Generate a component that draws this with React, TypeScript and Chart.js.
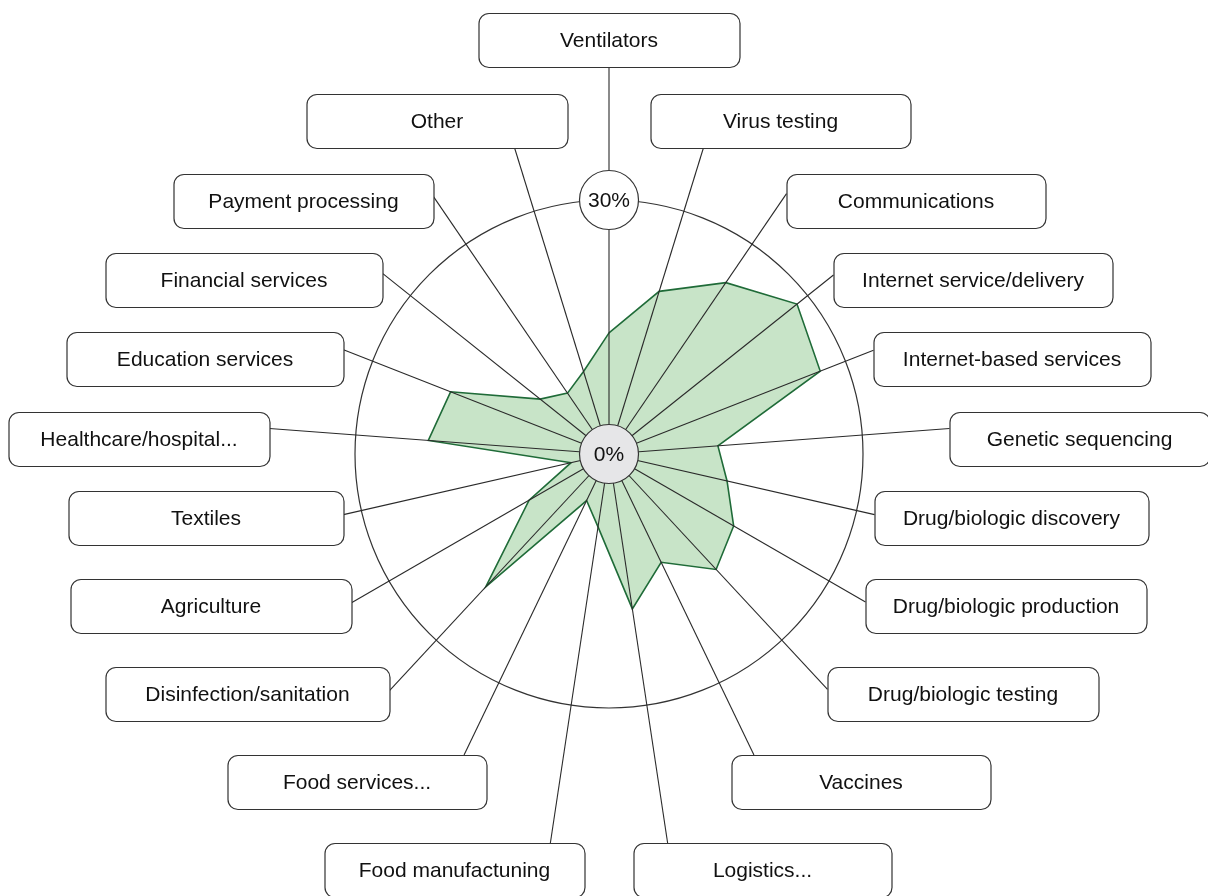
import React, { useEffect, useRef } from 'react';
import { Chart, registerables } from 'chart.js';

Chart.register(...registerables);

// ---- data ----
const categories: string[] = [
  'Ventilators',
  'Virus testing',
  'Communications',
  'Internet service/delivery',
  'Internet-based services',
  'Genetic sequencing',
  'Drug/biologic discovery',
  'Drug/biologic production',
  'Drug/biologic testing',
  'Vaccines',
  'Logistics...',
  'Food manufactuning',
  'Food services...',
  'Disinfection/sanitation',
  'Agriculture',
  'Textiles',
  'Healthcare/hospital...',
  'Education services',
  'Financial services',
  'Payment processing',
  'Other',
];

const shareValues: number[] = [
  14.3, 20.1, 24.5, 28.4, 26.8, 12.9, 14.3, 17.0, 18.6, 14.2, 18.5,
  8.7, 6.1, 21.4, 10.9, 4.6, 21.4, 20.1, 10.4, 8.7, 10.2,
];

const scaleMin = 0;
const scaleMax = 30;
const tickLabels: string[] = ['0%', '30%'];

// ---- layout (label boxes, offsets from the radar centre, px) ----
const boxDx: number[] = [0, 171.5, 307, 364, 403, 470.5, 402.5, 397, 354, 252, 153.5, -154.5, -252, -361.5, -398, -403, -470, -404, -365, -305.5, -172];
const boxDy: number[] = [-414, -333, -253, -174, -95, -15, 64, 152, 240, 328, 416, 416, 328, 240, 152, 64, -15, -95, -174, -253, -333];
const boxW: number[] = [261, 260, 259, 279, 277, 260, 274, 281, 271, 259, 258, 260, 259, 284, 281, 275, 261, 277, 277, 260, 261];
const BOX_H = 54;
const BOX_R = 10;
const FONT = '21px "Liberation Sans", Arial, sans-serif';
const INK = '#111111';
const LINE = '#2a2a2a';

function roundRect(ctx: CanvasRenderingContext2D, x: number, y: number, w: number, h: number, r: number) {
  ctx.beginPath();
  ctx.moveTo(x + r, y);
  ctx.lineTo(x + w - r, y);
  ctx.arcTo(x + w, y, x + w, y + r, r);
  ctx.lineTo(x + w, y + h - r);
  ctx.arcTo(x + w, y + h, x + w - r, y + h, r);
  ctx.lineTo(x + r, y + h);
  ctx.arcTo(x, y + h, x, y + h - r, r);
  ctx.lineTo(x, y + r);
  ctx.arcTo(x, y, x + r, y, r);
  ctx.closePath();
}

const decorPlugin = {
  id: 'decor',
  afterDatasetsDraw(chart: any) {
    const ctx: CanvasRenderingContext2D = chart.ctx;
    const scale = chart.scales.r;
    const cx = scale.xCenter;
    const cy = scale.yCenter;
    ctx.save();
    // spokes
    categories.forEach((_, i) => {
      const ang = scale.getIndexAngle(i) - Math.PI / 2;
      const ux = Math.cos(ang);
      const uy = Math.sin(ang);
      const bx0 = cx + boxDx[i] - boxW[i] / 2;
      const bx1 = cx + boxDx[i] + boxW[i] / 2;
      const by0 = cy + boxDy[i] - BOX_H / 2;
      const by1 = cy + boxDy[i] + BOX_H / 2;
      let tmin = 0;
      let tmax = Infinity;
      if (Math.abs(ux) > 1e-9) {
        const t1 = (bx0 - cx) / ux;
        const t2 = (bx1 - cx) / ux;
        tmin = Math.max(tmin, Math.min(t1, t2));
        tmax = Math.min(tmax, Math.max(t1, t2));
      }
      if (Math.abs(uy) > 1e-9) {
        const t1 = (by0 - cy) / uy;
        const t2 = (by1 - cy) / uy;
        tmin = Math.max(tmin, Math.min(t1, t2));
        tmax = Math.min(tmax, Math.max(t1, t2));
      }
      const t = tmin <= tmax ? tmin : Math.hypot(boxDx[i], boxDy[i]);
      ctx.beginPath();
      ctx.moveTo(cx, cy);
      ctx.lineTo(cx + ux * t, cy + uy * t);
      ctx.strokeStyle = LINE;
      ctx.lineWidth = 1.1;
      ctx.stroke();
    });
    // boxes + labels
    ctx.font = FONT;
    ctx.textAlign = 'center';
    ctx.textBaseline = 'middle';
    categories.forEach((label, i) => {
      const x = cx + boxDx[i] - boxW[i] / 2;
      const y = cy + boxDy[i] - BOX_H / 2;
      roundRect(ctx, x + 0.5, y + 0.5, boxW[i], BOX_H, BOX_R);
      ctx.fillStyle = '#ffffff';
      ctx.fill();
      ctx.strokeStyle = '#333333';
      ctx.lineWidth = 1.2;
      ctx.stroke();
      ctx.fillStyle = INK;
      ctx.fillText(label, cx + boxDx[i], cy + boxDy[i] + 1);
    });
    // centre (min) and outer (max) value badges
    const rOuter = scale.getDistanceFromCenterForValue(scaleMax);
    const badges = [
      { x: cx, y: cy - scale.getDistanceFromCenterForValue(scaleMin), fill: '#e6e6e8', text: tickLabels[0] },
      { x: cx, y: cy - rOuter, fill: '#ffffff', text: tickLabels[1] },
    ];
    badges.forEach((b) => {
      ctx.beginPath();
      ctx.arc(b.x, b.y, 29.5, 0, Math.PI * 2);
      ctx.fillStyle = b.fill;
      ctx.fill();
      ctx.strokeStyle = '#333333';
      ctx.lineWidth = 1.2;
      ctx.stroke();
      ctx.fillStyle = INK;
      ctx.fillText(b.text, b.x, b.y + 1);
    });
    ctx.restore();
  },
};

export default function App() {
  const ref = useRef<HTMLCanvasElement | null>(null);
  useEffect(() => {
    if (!ref.current) return;
    const chart = new Chart(ref.current, {
      type: 'radar',
      data: {
        labels: categories,
        datasets: [
          {
            data: shareValues,
            backgroundColor: 'rgb(200, 228, 200)',
            borderColor: '#1f6b38',
            borderWidth: 1.6,
            pointRadius: 0,
            pointHoverRadius: 0,
            fill: true,
            tension: 0,
          },
        ],
      },
      options: {
        responsive: false,
        animation: false,
        devicePixelRatio: 1,
        layout: { padding: { left: 355, right: 344, top: 200, bottom: 188 } },
        plugins: { legend: { display: false }, tooltip: { enabled: false } },
        scales: {
          r: {
            min: scaleMin,
            max: scaleMax,
            ticks: { display: false, stepSize: scaleMax - scaleMin },
            pointLabels: { display: false },
            angleLines: { display: false },
            grid: { circular: true, color: '#333333', lineWidth: 1.2 },
          },
        },
      },
      plugins: [decorPlugin],
    } as any);
    return () => chart.destroy();
  }, []);
  return (
    <div style={{ position: 'fixed', left: 0, top: 0, width: 1208, height: 896, background: '#fff' }}>
      <canvas ref={ref} width={1208} height={896} style={{ width: 1208, height: 896, display: 'block' }} />
    </div>
  );
}
